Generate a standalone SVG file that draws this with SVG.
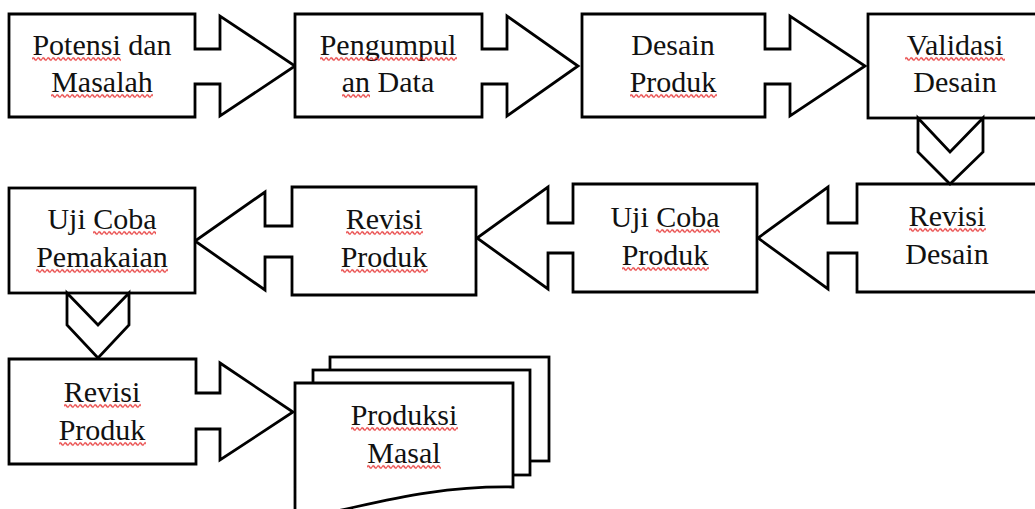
<svg xmlns="http://www.w3.org/2000/svg" width="1035" height="509" viewBox="0 0 1035 509">
  <style>
    .shape { fill: #fff; stroke: #000; stroke-width: 2.8; stroke-linejoin: miter; }
    .label { font-family: "Liberation Serif", "Times New Roman", serif; font-size: 30px; fill: #111; text-anchor: middle; }
    .sq { fill: url(#wave); }
  </style>
  <defs>
    <!-- red wavy spell-check underline -->
    <pattern id="wave" patternUnits="userSpaceOnUse" width="5" height="5">
      <path d="M0,2.5 Q1.25,0.3 2.5,2.5 T5,2.5" fill="none" stroke="#e31b1b" stroke-width="1.2"/>
    </pattern>
  </defs>
  <rect width="1035" height="509" fill="#fff"/>

  <!-- connectors: arrow callouts and chevrons -->
  <g id="connectors">
    <path class="shape" d="M9,14 H195 V49 H220 V16 L295,66 L220,116 V84 H195 V117 H9 Z"/>
    <path class="shape" d="M295,14 H482 V49 H507 V16 L578,66 L507,116 V84 H482 V117 H295 Z"/>
    <path class="shape" d="M582,14 H765 V49 H790 V16 L865,66 L790,116 V84 H765 V117 H582 Z"/>
    <path class="shape" d="M1045,184 H857 V223 H828 V187 L758,238 L828,289 V253 H857 V292 H1045 Z"/>
    <path class="shape" d="M757,184 H573 V223 H548 V187 L477,238 L548,289 V253 H573 V292 H757 Z"/>
    <path class="shape" d="M476,187 H292 V226 H265 V192 L195,241 L265,290 V257 H292 V295 H476 Z"/>
    <path class="shape" d="M9,359 H196 V393 H220 V363 L293,412 L220,460 V429 H196 V464 H9 Z"/>
  </g>

  <g id="node-potensi">
    <text class="label" x="102" y="55">Potensi dan</text>
    <text class="label" x="102" y="92">Masalah</text>
    <rect class="sq" transform="translate(32,56.5)" width="89" height="5"/>
    <rect class="sq" transform="translate(51,93.5)" width="102" height="5"/>
  </g>

  <g id="node-pengumpulan">
    <text class="label" x="388" y="55">Pengumpul</text>
    <text class="label" x="388" y="92">an Data</text>
    <rect class="sq" transform="translate(320,56.5)" width="137" height="5"/>
    <rect class="sq" transform="translate(342,93.5)" width="28" height="5"/>
  </g>

  <g id="node-desain-produk">
    <text class="label" x="673" y="55">Desain</text>
    <text class="label" x="673" y="92">Produk</text>
    <rect class="sq" transform="translate(630,93.5)" width="87" height="5"/>
  </g>

  <g id="node-validasi">
    <rect class="shape" x="868" y="14" width="180" height="104"/>
    <path class="shape" d="M918,118 L950,152 L983,118 V152 L950,184 L918,152 Z"/>
    <text class="label" x="955" y="55">Validasi</text>
    <text class="label" x="955" y="92">Desain</text>
    <rect class="sq" transform="translate(905,56.5)" width="100" height="5"/>
  </g>

  <g id="node-revisi-desain">
    <text class="label" x="947" y="226">Revisi</text>
    <text class="label" x="947" y="264">Desain</text>
    <rect class="sq" transform="translate(909,227.5)" width="77" height="5"/>
  </g>

  <g id="node-uji-coba-produk">
    <text class="label" x="665" y="227">Uji Coba</text>
    <text class="label" x="665" y="265">Produk</text>
    <rect class="sq" transform="translate(656,228.5)" width="64" height="5"/>
    <rect class="sq" transform="translate(622,266.5)" width="87" height="5"/>
  </g>

  <g id="node-revisi-produk-1">
    <text class="label" x="384" y="229">Revisi</text>
    <text class="label" x="384" y="267">Produk</text>
    <rect class="sq" transform="translate(346,230.5)" width="77" height="5"/>
    <rect class="sq" transform="translate(341,268.5)" width="87" height="5"/>
  </g>

  <g id="node-uji-coba-pemakaian">
    <rect class="shape" x="9" y="188" width="186" height="105"/>
    <path class="shape" d="M67,293 L98,325 L129,293 V325 L98,358 L67,325 Z"/>
    <text class="label" x="102" y="229">Uji Coba</text>
    <text class="label" x="102" y="267">Pemakaian</text>
    <rect class="sq" transform="translate(93,230.5)" width="63" height="5"/>
    <rect class="sq" transform="translate(36,268.5)" width="132" height="5"/>
  </g>

  <g id="node-revisi-produk-2">
    <text class="label" x="102" y="402">Revisi</text>
    <text class="label" x="102" y="440">Produk</text>
    <rect class="sq" transform="translate(64,403.5)" width="77" height="5"/>
    <rect class="sq" transform="translate(59,441.5)" width="87" height="5"/>
  </g>

  <g id="node-produksi-masal">
    <rect class="shape" x="330" y="357" width="219" height="104"/>
    <rect class="shape" x="313" y="370" width="217" height="105"/>
    <path class="shape" d="M295,383 H513 V487 C450,486 400,497 355,507 C330,513 310,516 295,514 Z"/>
    <text class="label" x="404" y="425">Produksi</text>
    <text class="label" x="404" y="463">Masal</text>
    <rect class="sq" transform="translate(351,426.5)" width="107" height="5"/>
    <rect class="sq" transform="translate(367,464.5)" width="74" height="5"/>
  </g>
</svg>
